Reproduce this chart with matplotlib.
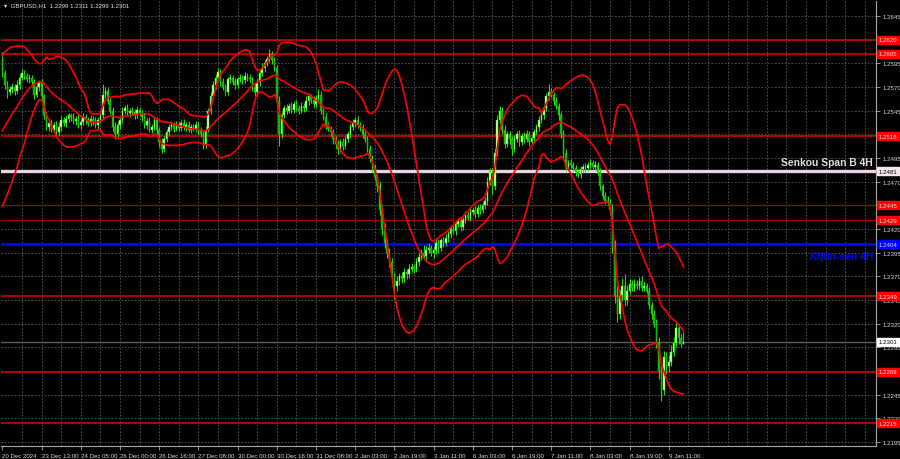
import numpy as np
import pandas as pd
import matplotlib
matplotlib.use('Agg')
import matplotlib.pyplot as plt

plt.rcParams['font.family'] = ['Liberation Sans', 'DejaVu Sans']

# GBPUSD H1, prices in 1e-4 units (12585 -> 1.2585)
# 19 bars of 20 Dec before the visible window (only feed the bands)
warmup = [12470, 12478, 12485, 12480, 12490, 12495, 12488, 12500, 12510, 12505,
          12515, 12525, 12530, 12540, 12550, 12560, 12575, 12590, 12600]

closes = [
    12585, 12572, 12565, 12568, 12570, 12566, 12572, 12580, 12585, 12582,
    12578, 12580, 12575, 12562, 12570, 12574, 12560, 12540, 12528, 12532,
    12525, 12530, 12522, 12528, 12535, 12532, 12536, 12540, 12538, 12534,
    12536, 12530, 12533, 12538, 12535, 12532, 12536, 12534, 12530, 12535,
    12540, 12562, 12566, 12555, 12545, 12528, 12520, 12530, 12535, 12545,
    12548, 12542, 12545, 12544, 12540, 12546, 12543, 12538, 12530, 12534,
    12525, 12528, 12535, 12525, 12512, 12505, 12515, 12522, 12528, 12530,
    12526, 12530, 12527, 12532, 12528, 12530, 12525, 12528, 12526, 12530,
    12524, 12520, 12510, 12525, 12545, 12560, 12572, 12580, 12586, 12575,
    12570, 12565, 12578, 12580, 12575, 12572, 12578, 12580, 12577, 12582,
    12580, 12578, 12570, 12565, 12575, 12585, 12590, 12595, 12600, 12605,
    12598, 12590, 12555, 12520, 12540, 12548, 12545, 12550, 12546, 12552,
    12548, 12545, 12550, 12548, 12555, 12560, 12556, 12552, 12558, 12562,
    12545, 12538, 12530, 12526, 12522, 12515, 12510, 12505, 12512, 12508,
    12515, 12520, 12528, 12532, 12535, 12530, 12528, 12520, 12515, 12505,
    12495, 12485, 12475, 12465, 12440, 12420, 12405, 12395, 12385, 12370,
    12360, 12365, 12370, 12368, 12375, 12372, 12378, 12380, 12378, 12385,
    12390, 12395, 12392, 12398, 12400, 12395, 12398, 12405, 12400, 12408,
    12405, 12410, 12415, 12420, 12418, 12425, 12428, 12422, 12430, 12435,
    12432, 12438, 12440, 12436, 12442, 12440, 12445, 12450, 12470, 12480,
    12465, 12500, 12535, 12545, 12525, 12510, 12520, 12515, 12505, 12515,
    12520, 12512, 12518, 12515, 12520, 12512, 12516, 12522, 12528, 12535,
    12540, 12548, 12560, 12565, 12562, 12555, 12550, 12540, 12520, 12500,
    12485, 12490, 12488, 12484, 12480, 12478, 12483, 12486, 12484, 12488,
    12490, 12486, 12488, 12480, 12465, 12455, 12450, 12448, 12440, 12400,
    12350, 12330, 12350, 12360, 12345, 12355, 12362, 12358, 12362, 12360,
    12365, 12358, 12360, 12355, 12340, 12330, 12320, 12300, 12270, 12250,
    12285, 12275, 12280, 12290, 12300, 12315, 12305, 12299, 12301,
]

# upper / lower shadow length beyond the body, pips
wick_hi = [
    7, 3, 4, 3, 4, 3, 5, 4, 4, 3,   3, 4, 3, 3, 4, 3, 4, 3, 5, 3,
    4, 3, 4, 5, 4, 3, 4, 3, 3, 4,   3, 5, 3, 4, 3, 3, 4, 3, 4, 3,
    5, 11, 4, 3, 3, 4, 5, 4, 3, 4,  3, 4, 3, 4, 3, 4, 3, 3, 5, 3,
    4, 3, 4, 3, 3, 4, 3, 4, 3, 4,   3, 4, 3, 3, 4, 3, 4, 3, 3, 4,
    3, 4, 3, 4, 3, 5, 4, 4, 4, 3,   4, 3, 3, 4, 3, 4, 3, 4, 3, 4,
    3, 4, 3, 4, 3, 4, 5, 4, 3, 5,   3, 4, 3, 5, 4, 3, 4, 3, 4, 3,
    4, 3, 4, 3, 5, 4, 3, 4, 3, 6,   4, 3, 4, 3, 3, 4, 3, 4, 3, 4,
    3, 4, 3, 4, 3, 4, 3, 3, 4, 3,   4, 3, 4, 3, 5, 4, 6, 4, 5, 4,
    4, 5, 4, 5, 4, 3, 5, 4, 3, 4,   5, 4, 8, 4, 5, 3, 4, 5, 4, 3,
    4, 5, 3, 4, 5, 3, 4, 5, 3, 4,   3, 4, 3, 4, 3, 4, 3, 4, 5, 4,
    4, 6, 5, 5, 4, 5, 4, 4, 3, 4,   4, 5, 3, 4, 5, 4, 3, 4, 3, 4,
    4, 3, 4, 8, 4, 3, 4, 3, 4, 5,   4, 3, 4, 3, 4, 3, 4, 3, 4, 3,
    4, 3, 4, 3, 4, 3, 4, 5, 4, 6,   8, 10, 6, 8, 12, 6, 5, 4, 5, 4,
    4, 5, 4, 3, 4, 3, 4, 5, 6, 5,   6, 5, 7, 8, 6, 7, 5, 4, 10,
]
wick_lo = [
    4, 4, 7, 3, 4, 5, 3, 4, 3, 4,   3, 4, 3, 5, 3, 4, 4, 4, 3, 5,
    3, 4, 5, 3, 4, 3, 4, 3, 4, 3,   4, 3, 4, 3, 4, 3, 3, 4, 3, 4,
    3, 4, 4, 3, 4, 5, 5, 3, 4, 3,   4, 3, 4, 3, 4, 3, 4, 4, 3, 4,
    3, 4, 3, 5, 5, 5, 4, 3, 4, 3,   4, 3, 4, 3, 3, 4, 3, 4, 3, 4,
    4, 3, 5, 4, 3, 4, 3, 4, 3, 4,   3, 5, 3, 4, 3, 4, 3, 3, 4, 3,
    4, 3, 4, 5, 3, 4, 3, 4, 3, 4,   4, 3, 6, 12, 4, 3, 4, 3, 4, 3,
    3, 4, 3, 4, 3, 4, 3, 4, 3, 4,   4, 3, 4, 3, 4, 5, 4, 6, 4, 5,
    4, 3, 4, 3, 4, 3, 4, 4, 3, 4,   4, 5, 3, 6, 5, 6, 5, 6, 5, 6,
    14, 5, 4, 5, 4, 5, 4, 3, 4, 3,  4, 3, 4, 5, 3, 4, 6, 4, 5, 3,
    4, 3, 4, 5, 3, 4, 3, 4, 3, 4,   3, 4, 3, 4, 3, 4, 3, 4, 5, 4,
    8, 4, 3, 4, 5, 4, 3, 5, 7, 4,   3, 4, 3, 4, 3, 4, 3, 4, 3, 4,
    3, 4, 3, 4, 3, 4, 3, 5, 4, 5,   4, 3, 4, 3, 4, 3, 4, 3, 4, 3,
    4, 3, 4, 3, 4, 3, 4, 3, 4, 5,   8, 8, 5, 6, 6, 5, 4, 3, 4, 3,
    4, 3, 4, 3, 4, 5, 4, 6, 8, 12,  5, 8, 6, 5, 4, 5, 6, 4, 0,
]

time_labels = ['20 Dec 2024', '23 Dec 13:00', '24 Dec 05:00', '26 Dec 00:00',
               '26 Dec 16:00', '27 Dec 08:00', '30 Dec 00:00', '30 Dec 16:00',
               '31 Dec 08:00', '2 Jan 03:00', '2 Jan 19:00', '3 Jan 11:00',
               '6 Jan 03:00', '6 Jan 19:00', '7 Jan 11:00', '8 Jan 03:00',
               '8 Jan 19:00', '9 Jan 11:00']
time_bars = [0, 16, 32, 48, 64, 80, 96, 112, 128, 144, 160, 176,
             192, 208, 224, 240, 256, 272]

price_ticks = [1.2645, 1.2620, 1.2595, 1.2570, 1.2545, 1.2520, 1.2495, 1.2470,
               1.2445, 1.2420, 1.2395, 1.2370, 1.2345, 1.2320, 1.2295, 1.2270,
               1.2245, 1.2220, 1.2195]
# scale labels hidden under the level tags in the terminal
covered_ticks = [1.2620, 1.2520, 1.2445, 1.2270]

red_levels = [1.2620, 1.2605, 1.2518, 1.2349, 1.2269, 1.2215]
dark_levels = [1.2445, 1.2429]
senkou_b = 1.2481
kijun = 1.2404
last_price = 1.2301

# ---- data prep
full = np.array(warmup + closes) / 10000
c = np.array(closes) / 10000
o = full[len(warmup) - 1:-1]
hi = np.maximum(o, c) + np.array(wick_hi) / 10000
lo = np.minimum(o, c) - np.array(wick_lo) / 10000
x = np.arange(len(c))

s = pd.Series(full)
mid = s.rolling(20).mean().values[len(warmup):]
sd = s.rolling(20).std(ddof=0).values[len(warmup):]
upper = mid + 2 * sd
lower = mid - 2 * sd

W, H = 900, 460
SMALL = 4.4


def fx(px):
    return px / W


def fy(py):
    return 1 - py / H


fig = plt.figure(figsize=(9, 4.6), dpi=100, facecolor='black')
ax = fig.add_axes([fx(1), fy(447), fx(876) - fx(1), fy(2) - fy(447)])
ax.set_facecolor('black')
ax.set_xlim(-0.57, 356.6)
ax.set_ylim(1.21908, 1.26608)

# grid
for b in range(8, 357, 8):
    ax.axvline(b, color='#5a5a5a', lw=0.6, ls=(0, (2, 2)), zorder=0)
for p in price_ticks:
    ax.axhline(p, color='#5a5a5a', lw=0.6, ls=(0, (2, 2)), zorder=0)

# levels
for p in red_levels:
    ax.axhline(p, color='#e00000', lw=1.1, zorder=1)
for p in dark_levels:
    ax.axhline(p, color='#a00000', lw=0.9, zorder=1)
ax.axhline(senkou_b, color='#e8d4e4', lw=2.4, zorder=1)
ax.axhline(kijun, color='#0000ff', lw=2.0, zorder=1)
ax.axhline(last_price, color='#5c5c5c', lw=1.0, zorder=1)

# candles
up = c >= o
ax.vlines(x, lo, hi, color='#22dd00', lw=0.8, zorder=3)
body = np.abs(c - o)
body = np.where(body < 0.00004, 0.00004, body)
bot = np.minimum(o, c)
ax.bar(x[up], body[up], bottom=bot[up], width=0.62, color='#c8ffb0',
       edgecolor='#33ee00', lw=0.3, zorder=4)
ax.bar(x[~up], body[~up], bottom=bot[~up], width=0.62, color='#12a812',
       edgecolor='#22dd00', lw=0.3, zorder=4)

# bollinger bands
for band in (upper, mid, lower):
    ax.plot(x, band, color='#ff0000', lw=1.2, zorder=5)

# axes styling
for side in ['top', 'left']:
    ax.spines[side].set_visible(False)
for side in ['bottom', 'right']:
    ax.spines[side].set_color('#a8a8a8')
    ax.spines[side].set_linewidth(0.8)

ax.yaxis.tick_right()
ax.set_yticks(price_ticks)
ax.set_yticklabels(['' if p in covered_ticks else f'{p:.4f}' for p in price_ticks])
ax.tick_params(axis='y', colors='#a8a8a8', labelcolor='#d8d8d8', labelsize=SMALL,
               length=3, width=0.6, pad=1.5)
ax.set_xticks(time_bars)
ax.set_xticklabels(time_labels, ha='left')
ax.tick_params(axis='x', colors='#a8a8a8', labelcolor='#d8d8d8', labelsize=SMALL,
               length=3, width=0.6, pad=2)


def price_y(p):
    return ax.transData.transform((0, p))[1] / H


def tag(p, face, fg):
    fig.text(fx(879), price_y(p), f'{p:.4f}', fontsize=SMALL, color=fg,
             ha='left', va='center', zorder=10,
             bbox=dict(boxstyle='square,pad=0.25', fc=face, ec=face))


for p in red_levels + dark_levels:
    tag(p, '#ff0000', '#ffe0e0')
tag(senkou_b, '#f2e6f0', 'black')
tag(kijun, '#0000ff', '#d8d8ff')
tag(last_price, 'white', 'black')

fig.text(fx(873), price_y(senkou_b) + 6 / H, 'Senkou Span B 4H', fontsize=7.4,
         fontweight='bold', color='#eadbe6', ha='right', va='baseline')
fig.text(fx(873), price_y(kijun) - 15 / H, 'Kijun-sen 4H', fontsize=7.4,
         fontweight='bold', color='#0000ff', ha='right', va='baseline')

fig.text(fx(4), fy(6), '\u25be  GBPUSD,H1  1.2299 1.2311 1.2299 1.2301',
         fontsize=SMALL, color='#e8e8e8', ha='left', va='center')

fig.savefig('out.png', dpi=100, facecolor='black')
